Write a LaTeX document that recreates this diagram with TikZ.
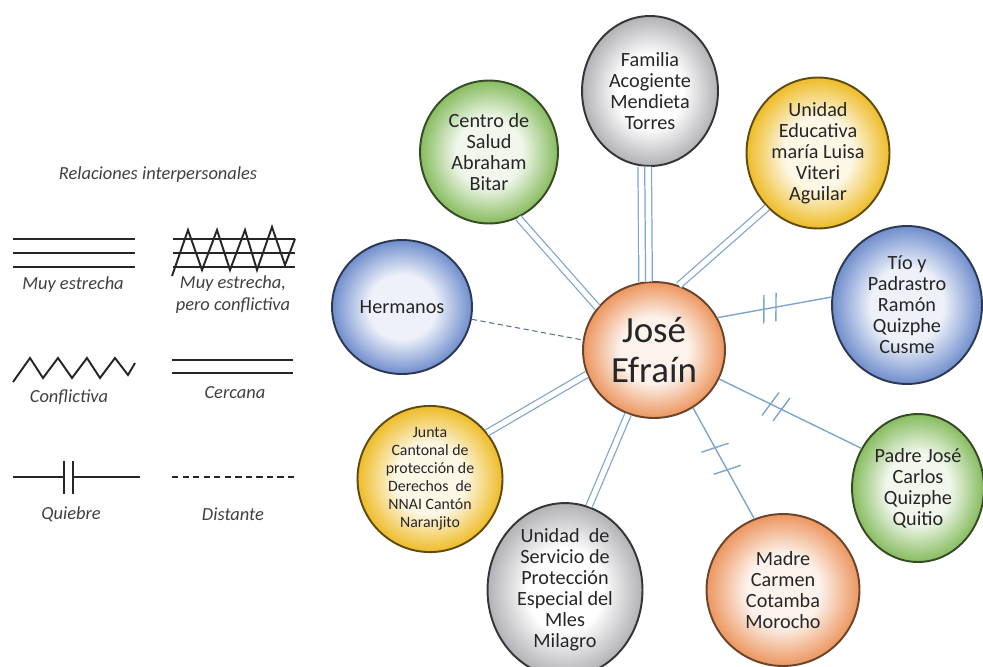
\documentclass[tikz,border=0pt]{standalone}
\usepackage{fontspec}
\setmainfont{Carlito}
\usepackage{tikz}
\definecolor{naranja}{RGB}{236,150,95}
\definecolor{plata}{RGB}{178,178,182}
\definecolor{verde}{RGB}{135,188,95}
\definecolor{amarillo}{RGB}{238,188,40}
\definecolor{azul}{RGB}{112,142,205}
\definecolor{enlace}{RGB}{125,165,205}
\colorlet{bolain}{white}
\colorlet{bolaout}{gray}
\pgfdeclareradialshading[bolain,bolaout]{vidrio}{\pgfpoint{0bp}{0bp}}{color(0bp)=(bolain); color(12bp)=(bolain); color(21bp)=(bolaout!70!bolain); color(25bp)=(bolaout); color(50bp)=(bolaout)}
\tikzstyle{bola}=[ellipse, align=center, inner sep=0pt, line width=1.1pt, text=black!85, shading=vidrio, font=\fontsize{11.5}{12}\selectfont]
\tikzstyle{bolanaranja}=[bola, draw=naranja!45!black, /utils/exec={\colorlet{bolain}{naranja!12!white}\colorlet{bolaout}{naranja}}]
\tikzstyle{bolaplata}=[bola, draw=plata!30!black, /utils/exec={\colorlet{bolain}{white}\colorlet{bolaout}{plata}}]
\tikzstyle{bolaverde}=[bola, draw=verde!40!black, /utils/exec={\colorlet{bolain}{verde!12!white}\colorlet{bolaout}{verde}}]
\tikzstyle{bolaamarilla}=[bola, draw=amarillo!40!black, /utils/exec={\colorlet{bolain}{amarillo!12!white}\colorlet{bolaout}{amarillo}}]
\tikzstyle{bolaazul}=[bola, draw=azul!40!black, /utils/exec={\colorlet{bolain}{azul!12!white}\colorlet{bolaout}{azul}}]
\tikzstyle{vinculo}=[draw=enlace, line width=0.8pt]
\tikzstyle{cercana}=[draw=enlace, line width=0.7pt, double=white, double distance=3pt]
\tikzstyle{estrecha}=[draw=enlace, line width=0.7pt, double=white, double distance=7pt]
\tikzstyle{distante}=[draw=enlace!70!black, line width=0.6pt, dash pattern=on 3pt off 2pt]
\tikzstyle{trazo}=[line width=1.1pt, black!85]
\tikzstyle{leyenda}=[font=\itshape\fontsize{10.5}{12.5}\selectfont, text=black!75, align=center]
\tikzset{quiebre/.style={postaction={decorate,decoration={markings,
    mark=at position #1 with {\draw[vinculo] (-5pt,-8pt) -- (-2pt,8pt) (2pt,-8pt) -- (5pt,8pt);}}}},
  corte/.style={postaction={decorate,decoration={markings,
    mark=at position #1 with {\draw[vinculo] (-1.5pt,-8pt) -- (1.5pt,8pt);}}}}}
\usetikzlibrary{shapes.geometric,decorations.markings}

\begin{document}
\begin{tikzpicture}[x=0.02cm,y=-0.02cm]
\useasboundingbox (0,0) rectangle (983,666);
% leyenda
\node (titulo) [leyenda] at (158,175) {Relaciones interpersonales};
\foreach \y in {239,253,267} \draw[trazo] (13,\y) -- (135,\y);
\node (muy) [leyenda] at (73,285) {Muy estrecha};
\foreach \y in {239,253,267} \draw[trazo] (173,\y) -- (295,\y);
\draw[trazo] (172,276) -- (188,230) -- (202,270) -- (217,230) -- (230,270) -- (245,230)
	-- (257,270) -- (272,227) -- (285,265) -- (295,239);
\node (muyconf) [leyenda] at (233,295) {Muy estrecha,\\pero conflictiva};
\draw[trazo] (13,382) -- (30,358) -- (43,378) -- (58,358) -- (72,378) -- (87,358)
	-- (100,378) -- (115,358) -- (128,375) -- (135,363);
\node (conf) [leyenda] at (69,397) {Conflictiva};
\draw[trazo] (172,360) -- (293,360) (172,373) -- (293,373);
\node (cerc) [leyenda] at (235,393) {Cercana};
\draw[trazo] (13,477) -- (64,477) (73,477) -- (140,477) (64,461) -- (64,494) (73,461) -- (73,494);
\node (quieb) [leyenda] at (71,514) {Quiebre};
\draw[trazo, dash pattern=on 3.6pt off 2.4pt] (172,477) -- (295,477);
\node (dist) [leyenda] at (233,514) {Distante};
% ecomapa
\node (jose) [bolanaranja, minimum width=2.84cm, minimum height=2.72cm, font=\fontsize{21}{23}\selectfont] at (654,350) {José\\Efraín};
\node (familia) [bolaplata, minimum width=2.72cm, minimum height=3cm] at (650,91) {Familia\\Acogiente\\Mendieta\\Torres};
\node (centro) [bolaverde, minimum width=2.76cm, minimum height=2.86cm] at (489,152) {Centro de\\Salud\\Abraham\\Bitar};
\node (educativa) [bolaamarilla, minimum width=2.86cm, minimum height=3.02cm] at (818,153) {Unidad\\Educativa\\maría Luisa\\Viteri\\Aguilar};
\node (hermanos) [bolaazul, minimum width=2.8cm, minimum height=2.68cm] at (402,307) {Hermanos};
\node (tio) [bolaazul, minimum width=3cm, minimum height=3.16cm] at (907,305) {Tío y\\Padrastro\\Ramón\\Quizphe\\Cusme};
\node (padre) [bolaverde, minimum width=2.64cm, minimum height=2.96cm] at (918,488) {Padre José\\Carlos\\Quizphe\\Quitio};
\node (madre) [bolanaranja, minimum width=3.06cm, minimum height=3.04cm] at (783,590) {Madre\\Carmen\\Cotamba\\Morocho};
\node (servicio) [bolaplata, minimum width=3.1cm, minimum height=3.12cm] at (565,590) {Unidad\ \ de\\Servicio de\\Protección\\Especial del\\Mles\\Milagro};
\node (junta) [bolaamarilla, minimum width=2.9cm, minimum height=2.56cm, font=\fontsize{9}{10.3}\selectfont] at (430,479) {Junta\\Cantonal de\\protección de\\Derechos\ \ de\\NNAI Cantón\\Naranjito};
\path
	(familia.266) edge[estrecha] (jose.97)
	(familia.266) edge[vinculo, line width=0.7pt] (jose.97);
\path
	(centro.-66) edge[cercana] (jose.143)
	(educativa.227) edge[cercana] (jose.69)
	(junta.39) edge[cercana] (jose.200)
	(servicio.74) edge[cercana] (jose.248);
\path
	(hermanos.-10) edge[distante] (jose.172);
\path
	(jose.27) edge[vinculo, quiebre=0.46] (tio.174)
	(jose.-24) edge[vinculo, quiebre=0.4] (padre.145)
	(jose.-56) edge[vinculo, corte=0.36, corte=0.56] (madre.112);
\end{tikzpicture}
\end{document}
